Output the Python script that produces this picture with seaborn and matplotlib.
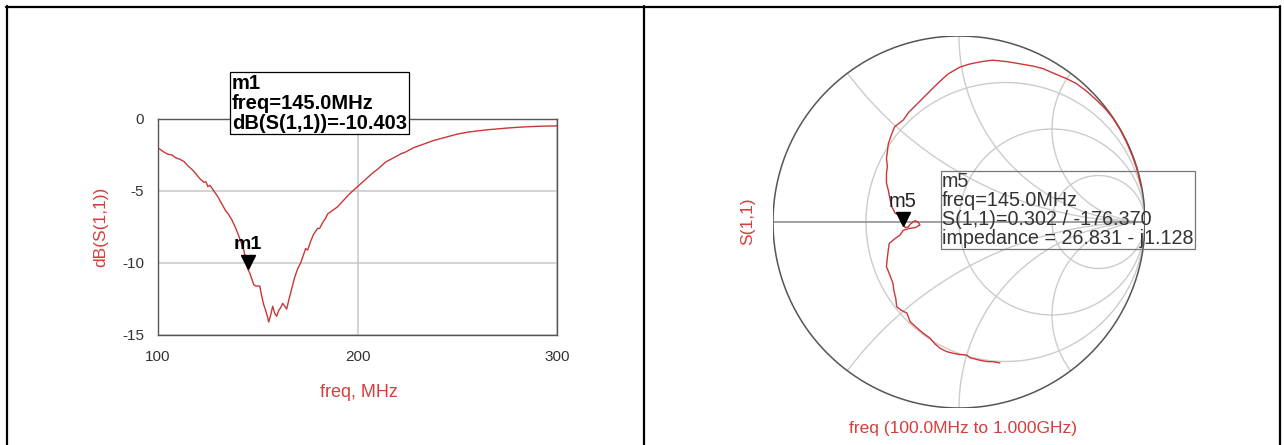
import numpy as np
import pandas as pd
import matplotlib.pyplot as plt
import matplotlib.transforms as mtransforms
from matplotlib.lines import Line2D
from matplotlib.patches import Circle
import seaborn as sns

# --- data ---
freq_mhz = [100, 101, 103, 105, 107, 109, 111, 113, 115, 117, 119, 121, 123, 124, 125, 126,
            128, 130, 132, 134, 135, 137, 139, 141, 143, 144, 145, 146, 147, 148, 149, 151,
            152, 153, 154, 155, 155.5, 156.5, 157.5, 158.5, 159.5, 160.5, 161.5, 162.5, 163.5,
            164.5, 165.5, 167, 168.5, 170, 171.5, 173, 174, 175, 176.5, 178, 180, 181, 182.5,
            184, 185, 186, 188, 190, 192, 194, 196, 198, 200, 202, 204, 206, 208, 210, 212,
            214, 216, 218, 220, 222, 224, 226, 228, 230, 234, 238, 242, 246, 250, 255, 260,
            265, 270, 275, 280, 285, 290, 295, 300]
s11_db = [-2.05, -2.1, -2.3, -2.45, -2.5, -2.7, -2.8, -2.95, -3.25, -3.5, -3.8, -4.15, -4.4,
          -4.35, -4.7, -4.6, -5.0, -5.4, -5.9, -6.4, -6.55, -7.0, -7.6, -8.3, -9.1, -9.8,
          -10.4, -10.7, -11.1, -11.5, -11.6, -11.6, -12.3, -12.9, -13.3, -13.8, -14.1, -13.6,
          -13.0, -13.5, -13.7, -13.3, -13.1, -12.8, -13.0, -13.2, -12.6, -11.8, -11.0, -10.4,
          -10.0, -9.4, -9.0, -9.1, -8.5, -8.0, -7.6, -7.6, -7.2, -6.9, -6.6, -6.5, -6.3, -6.1,
          -5.8, -5.5, -5.2, -4.95, -4.7, -4.45, -4.2, -3.95, -3.7, -3.5, -3.25, -3.0, -2.85,
          -2.7, -2.55, -2.4, -2.3, -2.15, -2.0, -1.9, -1.7, -1.5, -1.35, -1.2, -1.05, -0.92,
          -0.83, -0.75, -0.69, -0.63, -0.58, -0.54, -0.51, -0.49, -0.48]

# S(1,1) trace on the Smith chart, 100 MHz -> 1 GHz (real, imag)
gamma_re = [0.22, 0.19, 0.15, 0.12, 0.08, 0.06, 0.04, 0.0, -0.035, -0.066, -0.10, -0.13, -0.156,
            -0.19, -0.225, -0.263, -0.28, -0.31, -0.335, -0.34, -0.35, -0.355, -0.37, -0.39,
            -0.385, -0.38, -0.375, -0.345, -0.317, -0.30, -0.27, -0.235, -0.21, -0.22, -0.237,
            -0.26, -0.274, -0.29, -0.30, -0.308, -0.344, -0.36, -0.37, -0.38, -0.39, -0.39,
            -0.385, -0.39, -0.385, -0.38, -0.365, -0.346, -0.30, -0.27, -0.23, -0.17, -0.12,
            -0.06, 0.005, 0.06, 0.12, 0.18, 0.26, 0.33, 0.40, 0.45, 0.52, 0.58, 0.63, 0.69,
            0.74, 0.79, 0.83, 0.87, 0.90, 0.93, 0.955, 0.97, 0.98]
gamma_im = [-0.758, -0.752, -0.75, -0.745, -0.735, -0.73, -0.715, -0.712, -0.705, -0.697, -0.68,
            -0.655, -0.624, -0.6, -0.57, -0.536, -0.49, -0.475, -0.455, -0.41, -0.37, -0.33,
            -0.29, -0.24, -0.19, -0.15, -0.115, -0.09, -0.07, -0.045, -0.035, -0.03, -0.016,
            0.0, 0.007, -0.01, -0.027, -0.03, -0.01, 0.028, 0.048, 0.08, 0.118, 0.17, 0.21,
            0.26, 0.30, 0.34, 0.38, 0.42, 0.465, 0.512, 0.548, 0.59, 0.63, 0.69, 0.74, 0.795,
            0.833, 0.85, 0.862, 0.87, 0.862, 0.85, 0.838, 0.825, 0.795, 0.77, 0.745, 0.70,
            0.655, 0.605, 0.555, 0.49, 0.43, 0.36, 0.29, 0.23, 0.19]

m1_freq, m1_db = 145.0, -10.403
m5_mag, m5_ang = 0.302, -176.370
r_circles = [1/3, 1, 3]
x_arcs = [0.5, 1, 2]

RED = '#cc3636'
LABEL_RED = '#d83c3c'
W, H = 1284, 445


def fx(px):
    return px / W


def fy(py):
    return 1 - py / H


sns.set_style('white')
plt.rcParams['font.family'] = ['Liberation Sans', 'DejaVu Sans']
plt.rcParams['axes.unicode_minus'] = False

fig = plt.figure(figsize=(12.84, 4.45), dpi=100)

# ---------- left: dB(S(1,1)) vs freq ----------
ax1 = fig.add_axes([fx(158), fy(335), (557 - 158) / W, (335 - 119) / H])
df = pd.DataFrame({'freq': freq_mhz, 'db': s11_db})
sns.lineplot(data=df, x='freq', y='db', ax=ax1, color=RED, lw=1.0)
ax1.set_xlim(100, 300)
ax1.set_ylim(-15, 0)
ax1.set_xticks([100, 200, 300])
ax1.set_xticks(np.arange(100, 301, 10), minor=True)
ax1.set_yticks([0, -5, -10, -15])
ax1.set_yticks(np.arange(-15, 1, 1), minor=True)
ax1.tick_params(axis='y', which='major', direction='out', length=8.5, width=0.8,
                color='#444', labelsize=11, labelcolor='#333', pad=1.5)
ax1.tick_params(axis='x', which='major', direction='out', length=8, width=0.8,
                color='#444', labelsize=11, labelcolor='#333', pad=3)
ax1.tick_params(axis='y', which='minor', direction='out', length=4.3, width=0.8, color='#444')
ax1.tick_params(axis='x', which='minor', direction='out', length=5, width=0.8, color='#444')
ax1.grid(True, which='major', color='#c8c8c8', lw=1.1)
for s in ax1.spines.values():
    s.set_visible(True)
    s.set_color('#555')
    s.set_linewidth(1.0)
ax1.set_xlabel('freq, MHz', color=LABEL_RED, fontsize=13)
ax1.xaxis.set_label_coords(0.504, -0.225)
ax1.set_ylabel('dB(S(1,1))', color=LABEL_RED, fontsize=12.5)
ax1.yaxis.set_label_coords(-0.125, 0.5)

off1 = mtransforms.offset_copy(ax1.transData, fig=fig, y=7, units='dots')
ax1.plot([m1_freq], [m1_db], marker='v', ms=10, color='black', transform=off1, clip_on=False)
ax1.annotate('m1', xy=(m1_freq, m1_db), xytext=(0, 24), textcoords='offset pixels',
             ha='center', va='center', fontsize=14, fontweight='bold', color='black')

fig.text(fx(232), fy(74), 'm1\nfreq=145.0MHz\ndB(S(1,1))=-10.403', ha='left', va='top',
         fontsize=14.5, fontweight='bold', linespacing=1.06, color='black',
         bbox=dict(boxstyle='square,pad=0.08', fc='white', ec='black', lw=0.9))

# ---------- right: Smith chart ----------
ax2 = fig.add_axes([fx(773), fy(408), 372 / W, 372 / H])
ax2.set_xlim(-1, 1)
ax2.set_ylim(-1, 1)
ax2.axis('off')

theta = np.linspace(0, 2 * np.pi, 500)
unit = Circle((0, 0), 1, transform=ax2.transData)
for r in r_circles:
    c, rad = r / (1 + r), 1 / (1 + r)
    ax2.plot(c + rad * np.cos(theta), rad * np.sin(theta), color='#cccccc', lw=1.0)
for xv in x_arcs:
    for sgn in (1, -1):
        line, = ax2.plot(1 + np.cos(theta) / xv, sgn / xv + np.sin(theta) / xv,
                         color='#cccccc', lw=1.0)
        line.set_clip_path(unit)
ax2.plot([-1, 1], [0, 0], color='#888888', lw=1.1)
ax2.plot(np.cos(theta), np.sin(theta), color='#555555', lw=1.1)

sns.lineplot(x=gamma_re, y=gamma_im, sort=False, estimator=None, ax=ax2, color=RED, lw=1.0)

m5_re = m5_mag * np.cos(np.deg2rad(m5_ang))
m5_im = m5_mag * np.sin(np.deg2rad(m5_ang))
off2 = mtransforms.offset_copy(ax2.transData, fig=fig, y=7, units='dots')
ax2.plot([m5_re], [m5_im], marker='v', ms=10, color='black', transform=off2)
ax2.annotate('m5', xy=(m5_re, m5_im), xytext=(0, 24), textcoords='offset pixels',
             ha='center', va='center', fontsize=14.5, color='#222')

fig.text(fx(942), fy(172),
         'm5\nfreq=145.0MHz\nS(1,1)=0.302 / -176.370\nimpedance = 26.831 - j1.128',
         ha='left', va='top', fontsize=14.2, color='#333', linespacing=1.0,
         bbox=dict(boxstyle='square,pad=0.06', fc='none', ec='#777777', lw=0.9))

fig.text(fx(748), fy(221), 'S(1,1)', rotation=90, ha='center', va='center',
         color=LABEL_RED, fontsize=12.5)
fig.text(fx(963), fy(428), 'freq (100.0MHz to 1.000GHz)', ha='center', va='center',
         color=LABEL_RED, fontsize=12.5)

# ---------- table-like frame ----------
for xs, ys in [([6, 1280], [6.5, 6.5]), ([6.5, 6.5], [6, 445]),
               ([644, 644], [6, 445]), ([1279.5, 1279.5], [6, 445])]:
    fig.add_artist(Line2D([fx(v) for v in xs], [fy(v) for v in ys],
                          transform=fig.transFigure, color='black', lw=1.6))

fig.savefig('out.png', dpi=100)
